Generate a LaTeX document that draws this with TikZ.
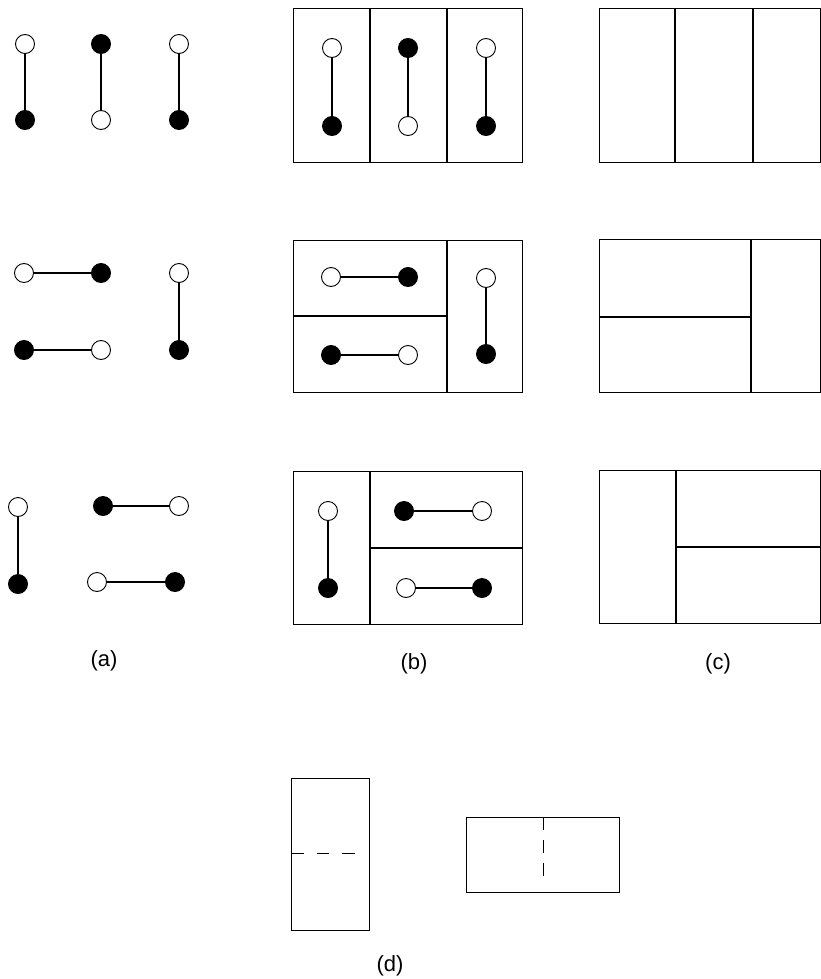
\documentclass[tikz,border=0pt]{standalone}
\usepackage{fontspec}
\setsansfont{Liberation Sans}
\usetikzlibrary{positioning}

\begin{document}
\begin{tikzpicture}[x=1pt,y=-1pt,
  wsite/.style={circle,draw,fill=white,minimum size=19pt,inner sep=0pt,line width=0.9pt},
  bsite/.style={circle,draw,fill=black,minimum size=19pt,inner sep=0pt,line width=0.9pt},
  bond/.style={line width=2pt},
  frame/.style={line width=1pt},
  wall/.style={line width=2pt},
  lab/.style={font=\sffamily\fontsize{22}{26}\selectfont}]
\useasboundingbox (0,0) rectangle (821,979);

% (a) loose dimers
\node[wsite] (a1t) at (25,44) {};
\node[bsite] (a1b) at (25,120) {};
\node[bsite] (a2t) at (101,44) {};
\node[wsite] (a2b) at (101,120) {};
\node[wsite] (a3t) at (179,44) {};
\node[bsite] (a3b) at (179,120) {};
\draw[bond] (a1t) -- (a1b);
\draw[bond] (a2t) -- (a2b);
\draw[bond] (a3t) -- (a3b);

\node[wsite] (a4l) at (24,273) {};
\node[bsite] (a4r) at (101,273) {};
\node[bsite] (a5l) at (24,350) {};
\node[wsite] (a5r) at (101,350) {};
\node[wsite] (a6t) at (179,273) {};
\node[bsite] (a6b) at (179,350) {};
\draw[bond] (a4l) -- (a4r);
\draw[bond] (a5l) -- (a5r);
\draw[bond] (a6t) -- (a6b);

\node[wsite] (a7t) at (18,507) {};
\node[bsite] (a7b) at (18,584) {};
\node[bsite] (a8l) at (103,506) {};
\node[wsite] (a8r) at (179,506) {};
\node[wsite] (a9l) at (97,582) {};
\node[bsite] (a9r) at (175,582) {};
\draw[bond] (a7t) -- (a7b);
\draw[bond] (a8l) -- (a8r);
\draw[bond] (a9l) -- (a9r);

% (b) dimers in their cells
\draw[frame] (293,9) rectangle (522,162);
\draw[wall] (370,9) -- (370,162);
\draw[wall] (447,9) -- (447,162);
\node[wsite] (b1t) at (332,48) {};
\node[bsite] (b1b) at (332,126) {};
\node[bsite] (b2t) at (408,48) {};
\node[wsite] (b2b) at (408,126) {};
\node[wsite] (b3t) at (486,48) {};
\node[bsite] (b3b) at (486,126) {};
\draw[bond] (b1t) -- (b1b);
\draw[bond] (b2t) -- (b2b);
\draw[bond] (b3t) -- (b3b);

\draw[frame] (293,240) rectangle (522,392);
\draw[wall] (293,316) -- (447,316);
\draw[wall] (447,240) -- (447,392);
\node[wsite] (b4l) at (331,277) {};
\node[bsite] (b4r) at (408,277) {};
\node[bsite] (b5l) at (331,355) {};
\node[wsite] (b5r) at (408,355) {};
\node[wsite] (b6t) at (486,278) {};
\node[bsite] (b6b) at (486,354) {};
\draw[bond] (b4l) -- (b4r);
\draw[bond] (b5l) -- (b5r);
\draw[bond] (b6t) -- (b6b);

\draw[frame] (293,471) rectangle (522,624);
\draw[wall] (370,471) -- (370,624);
\draw[wall] (370,548) -- (522,548);
\node[wsite] (b7t) at (328,511) {};
\node[bsite] (b7b) at (328,588) {};
\node[bsite] (b8l) at (404,511) {};
\node[wsite] (b8r) at (482,511) {};
\node[wsite] (b9l) at (406,588) {};
\node[bsite] (b9r) at (482,588) {};
\draw[bond] (b7t) -- (b7b);
\draw[bond] (b8l) -- (b8r);
\draw[bond] (b9l) -- (b9r);

% (c) empty tilings
\draw[frame] (599,9) rectangle (820.5,162);
\draw[wall] (675,9) -- (675,162);
\draw[wall] (753,9) -- (753,162);

\draw[frame] (599,239) rectangle (820.5,392);
\draw[wall] (599,317) -- (751,317);
\draw[wall] (751,239) -- (751,392);

\draw[frame] (599,470) rectangle (820.5,623);
\draw[wall] (676,470) -- (676,623);
\draw[wall] (676,547) -- (821,547);

% (d) single cells
\draw[frame] (291,778) rectangle (369,930);
\draw[frame,dash pattern=on 12.5pt off 13pt] (291,853) -- (356,853);
\draw[frame] (466,817) rectangle (619,892);
\draw[frame,dash pattern=on 13pt off 10pt] (543,817) -- (543,881);

% labels
\node[lab] (la) at (104,661) {(a)};
\node[lab] (lb) at (414,664) {(b)};
\node[lab] (lc) at (718,664) {(c)};
\node[lab] (ld) at (390,966) {(d)};
\end{tikzpicture}
\end{document}
